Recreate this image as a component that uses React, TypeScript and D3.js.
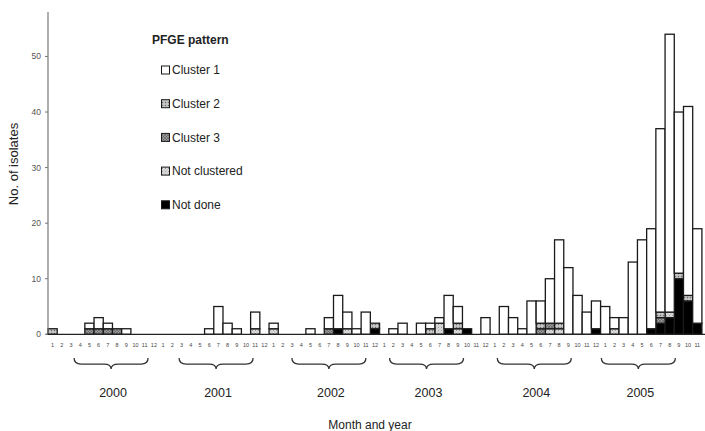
import React from "react";
import * as d3 from "d3";

// ---- data (months Jan 2000 .. Nov 2005) ----
const years = ["2000", "2001", "2002", "2003", "2004", "2005"];
const monthsPerYear = [12, 12, 12, 12, 12, 11];

const cluster1 = [
  0, 0, 0, 0, 1, 2, 1, 0, 1, 0, 0, 0,
  0, 0, 0, 0, 0, 1, 5, 2, 1, 0, 3, 0,
  1, 0, 0, 0, 1, 0, 2, 6, 3, 1, 4, 0,
  0, 1, 2, 0, 2, 1, 1, 6, 3, 0, 0, 3,
  0, 5, 3, 1, 6, 4, 8, 15, 12, 7, 4, 5,
  5, 2, 3, 13, 17, 18, 33, 50, 29, 34, 17,
];
const cluster2 = [
  1, 0, 0, 0, 0, 0, 0, 0, 0, 0, 0, 0,
  0, 0, 0, 0, 0, 0, 0, 0, 0, 0, 0, 0,
  0, 0, 0, 0, 0, 0, 0, 0, 0, 0, 0, 1,
  0, 0, 0, 0, 0, 1, 0, 0, 1, 0, 0, 0,
  0, 0, 0, 0, 0, 1, 0, 1, 0, 0, 0, 0,
  0, 0, 0, 0, 0, 0, 1, 0, 1, 1, 0,
];
const cluster3 = [
  0, 0, 0, 0, 1, 1, 1, 1, 0, 0, 0, 0,
  0, 0, 0, 0, 0, 0, 0, 0, 0, 0, 0, 0,
  0, 0, 0, 0, 0, 0, 1, 0, 0, 0, 0, 0,
  0, 0, 0, 0, 0, 0, 0, 0, 0, 0, 0, 0,
  0, 0, 0, 0, 0, 1, 1, 0, 0, 0, 0, 0,
  0, 0, 0, 0, 0, 0, 1, 0, 0, 0, 0,
];
const notClustered = [
  0, 0, 0, 0, 0, 0, 0, 0, 0, 0, 0, 0,
  0, 0, 0, 0, 0, 0, 0, 0, 0, 0, 1, 0,
  1, 0, 0, 0, 0, 0, 0, 0, 1, 0, 0, 0,
  0, 0, 0, 0, 0, 0, 2, 0, 1, 0, 0, 0,
  0, 0, 0, 0, 0, 0, 1, 1, 0, 0, 0, 0,
  0, 1, 0, 0, 0, 0, 0, 1, 0, 0, 0,
];
const notDone = [
  0, 0, 0, 0, 0, 0, 0, 0, 0, 0, 0, 0,
  0, 0, 0, 0, 0, 0, 0, 0, 0, 0, 0, 0,
  0, 0, 0, 0, 0, 0, 0, 1, 0, 0, 0, 1,
  0, 0, 0, 0, 0, 0, 0, 1, 0, 1, 0, 0,
  0, 0, 0, 0, 0, 0, 0, 0, 0, 0, 0, 1,
  0, 0, 0, 0, 0, 1, 2, 3, 10, 6, 2,
];
const yTicks = [0, 10, 20, 30, 40, 50];
const seriesKeys = ["notDone", "notClustered", "cluster3", "cluster2", "cluster1"];
const legendLabels = ["Cluster 1", "Cluster 2", "Cluster 3", "Not clustered", "Not done"];
const legendKeys = ["cluster1", "cluster2", "cluster3", "notClustered", "notDone"];

// layout constants (brace centre offset within each year, in months)
const braceCentreMonth = [6.85, 6.25, 6.5, 5.1, 4.8, 4.1];

const fills: Record<string, string> = {
  cluster1: "#ffffff",
  cluster2: "url(#pC2)",
  cluster3: "url(#pC3)",
  notClustered: "url(#pNC)",
  notDone: "#000000",
};

export default function App() {
  const W = 705, H = 431;
  const monthLabels: string[] = [];
  monthsPerYear.forEach((n) => {
    for (let m = 1; m <= n; m++) monthLabels.push(String(m));
  });
  const rows = monthLabels.map((_, i) => ({
    i,
    cluster1: cluster1[i],
    cluster2: cluster2[i],
    cluster3: cluster3[i],
    notClustered: notClustered[i],
    notDone: notDone[i],
  }));
  const stacked = d3.stack<any>().keys(seriesKeys)(rows);

  const x = d3
    .scaleBand<number>()
    .domain(rows.map((r) => r.i))
    .range([48, 48 + rows.length * 9.21])
    .padding(0);
  const y = d3.scaleLinear().domain([0, 58]).range([334.3, 12]);
  const font = "'Liberation Sans', Arial, sans-serif";

  const bw = x.bandwidth();
  const braceY = 358;
  const braceH = 11;
  const bracePath = (x1: number, x2: number) => {
    const mid = (x1 + x2) / 2;
    const q = 7;
    const ym = braceY + braceH * 0.55;
    return `M${x1},${braceY} Q${x1},${ym} ${x1 + q},${ym} L${mid - q},${ym} Q${mid},${ym} ${mid},${braceY + braceH} Q${mid},${ym} ${mid + q},${ym} L${x2 - q},${ym} Q${x2},${ym} ${x2},${braceY}`;
  };
  let startIdx = 0;
  const yearStarts = monthsPerYear.map((n) => {
    const s = startIdx;
    startIdx += n;
    return s;
  });

  return (
    <svg
      width={W}
      height={H}
      style={{ position: "absolute", left: 0, top: 0, background: "#fff" }}
      fontFamily={font}
    >
      <defs>
        <pattern id="pC2" width="3" height="3" patternUnits="userSpaceOnUse">
          <rect width="3" height="3" fill="#b4b4b4" />
          <rect width="1" height="1" fill="#6a6a6a" />
          <rect x="1.5" y="1.5" width="1" height="1" fill="#ffffff" />
        </pattern>
        <pattern id="pC3" width="3" height="3" patternUnits="userSpaceOnUse">
          <rect width="3" height="3" fill="#9a9a9a" />
          <path d="M0,0 L3,3 M3,0 L0,3" stroke="#5a5a5a" strokeWidth="0.6" />
        </pattern>
        <pattern id="pNC" width="3" height="3" patternUnits="userSpaceOnUse">
          <rect width="3" height="3" fill="#dcdcdc" />
          <rect width="1" height="1" fill="#9a9a9a" />
          <rect x="1.5" y="1.5" width="1" height="1" fill="#b0b0b0" />
        </pattern>
      </defs>

      {/* bars */}
      {stacked.map((s) => (
        <g key={s.key}>
          {s.map((d, i) =>
            d[1] - d[0] > 0 ? (
              <rect
                key={i}
                x={x(i)!}
                y={y(d[1])}
                width={bw}
                height={y(d[0]) - y(d[1])}
                fill={fills[s.key]}
                stroke="#1a1a1a"
                strokeWidth={1.3}
              />
            ) : null
          )}
        </g>
      ))}

      {/* axes */}
      <line x1={48} x2={48} y1={12} y2={334.3} stroke="#777" strokeWidth={1.2} />
      <line x1={46} x2={W} y1={334.3} y2={334.3} stroke="#222" strokeWidth={1.3} />
      {yTicks.map((t) => (
        <g key={t}>
          <line x1={45} x2={48} y1={y(t)} y2={y(t)} stroke="#777" strokeWidth={1} />
          <text x={41} y={y(t)} dy="0.35em" textAnchor="end" fontSize={8.5} fill="#555">
            {t}
          </text>
        </g>
      ))}
      {monthLabels.map((m, i) => (
        <text
          key={i}
          x={x(i)! + bw / 2}
          y={347}
          textAnchor="middle"
          fontSize={5.5}
          fill="#444"
        >
          {m}
        </text>
      ))}

      {/* year braces */}
      {years.map((yr, yi) => {
        const c = x(yearStarts[yi])! + braceCentreMonth[yi] * bw;
        return (
          <g key={yr}>
            <path d={bracePath(c - 37, c + 37)} fill="none" stroke="#333" strokeWidth={1.3} />
            <text x={c + 2} y={393} dy="0.35em" textAnchor="middle" fontSize={12.5} fill="#222">
              {yr}
            </text>
          </g>
        );
      })}

      <text x={370} y={425} dy="0.35em" textAnchor="middle" fontSize={12} fill="#222">
        Month and year
      </text>
      <text
        transform="translate(13,164) rotate(-90)"
        textAnchor="middle"
        dy="0.35em"
        fontSize={13}
        fill="#222"
      >
        No. of isolates
      </text>

      {/* legend */}
      <text x={152} y={40} dy="0.35em" fontSize={12} fontWeight="bold" fill="#222">
        PFGE pattern
      </text>
      {legendKeys.map((k, i) => {
        const ly = 70 + i * 33.7;
        return (
          <g key={k}>
            <rect x={161.5} y={ly - 4} width={8} height={8} fill={fills[k]} stroke="#1a1a1a" strokeWidth={1} />
            <text x={172} y={ly} dy="0.35em" fontSize={12} fill="#222">
              {legendLabels[i]}
            </text>
          </g>
        );
      })}
    </svg>
  );
}
